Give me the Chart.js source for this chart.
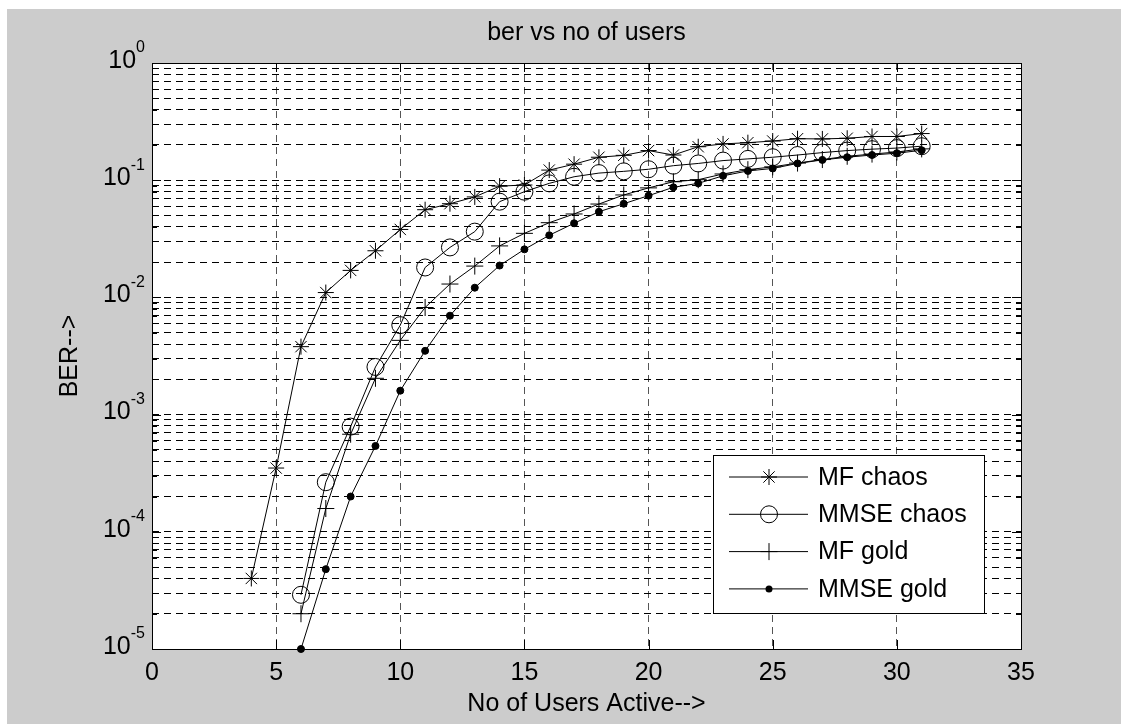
<!DOCTYPE html>
<html>
<head>
<meta charset="utf-8">
<script src="https://cdn.jsdelivr.net/npm/chart.js@4.4.0/dist/chart.umd.min.js"></script>
<style>
  html, body { margin: 0; padding: 0; background: #fff; }
  #wrap { position: absolute; left: 7px; top: 9px; width: 1114px; height: 715px; background: #ccc; }
</style>
</head>
<body>
<div id="wrap"><canvas id="myChart"></canvas></div>
<script>
const users = [4, 5, 6, 7, 8, 9, 10, 11, 12, 13, 14, 15, 16, 17, 18, 19, 20, 21, 22, 23, 24, 25, 26, 27, 28, 29, 30, 31];
const mfChaos = [4.0e-5, 3.5e-4, 3.8e-3, 1.1e-2, 1.7e-2, 2.5e-2, 3.8e-2, 5.6e-2, 6.3e-2, 7.2e-2, 8.9e-2, 9.1e-2, 0.122, 0.137,
  0.157, 0.163, 0.179, 0.164, 0.193, 0.204, 0.209, 0.216, 0.226, 0.225, 0.228, 0.236, 0.236, 0.25];
const mmseChaos = [null, null, 2.9e-5, 2.65e-4, 7.9e-4, 2.55e-3, 5.8e-3, 1.8e-2, 2.67e-2, 3.64e-2, 6.56e-2, 7.98e-2, 9.4e-2, 0.107,
  0.115, 0.119, 0.124, 0.133, 0.139, 0.147, 0.152, 0.157, 0.164, 0.172, 0.179, 0.184, 0.188, 0.195];
const mfGold = [null, null, 2.0e-5, 1.58e-4, 6.8e-4, 2.04e-3, 4.3e-3, 8.2e-3, 1.3e-2, 1.85e-2, 2.75e-2, 3.52e-2, 4.34e-2, 5.15e-2,
  6.26e-2, 7.48e-2, 0.086, 0.097, 0.101, 0.113, 0.123, 0.13, 0.14, 0.15, 0.16, 0.167, 0.174, 0.185];
const mmseGold = [null, null, 1.0e-5, 4.8e-5, 2.0e-4, 5.4e-4, 1.6e-3, 3.5e-3, 6.98e-3, 1.21e-2, 1.87e-2, 2.57e-2, 3.39e-2, 4.29e-2,
  5.38e-2, 6.3e-2, 0.0738, 0.087, 0.094, 0.109, 0.12, 0.126, 0.139, 0.149, 0.157, 0.164, 0.17, 0.18];
const seriesNames = ["MF chaos", "MMSE chaos", "MF gold", "MMSE gold"];
const xTicks = [0, 5, 10, 15, 20, 25, 30, 35];
const yExponents = [-5, -4, -3, -2, -1, 0];

const FONT = "'Liberation Sans', Arial, sans-serif";
Chart.defaults.font.family = FONT;
Chart.defaults.font.size = 25;
Chart.defaults.color = "#000";

function pts(series) {
  return users.map((u, i) => ({ x: u, y: series[i] }));
}

function drawMarker(ctx, style, x, y) {
  ctx.save();
  ctx.strokeStyle = "#000";
  ctx.fillStyle = "#000";
  ctx.lineWidth = 1;
  ctx.beginPath();
  if (style === "star") {
    const r = 8, d = r * Math.SQRT1_2;
    ctx.moveTo(x - r, y); ctx.lineTo(x + r, y);
    ctx.moveTo(x, y - r); ctx.lineTo(x, y + r);
    ctx.moveTo(x - d, y - d); ctx.lineTo(x + d, y + d);
    ctx.moveTo(x - d, y + d); ctx.lineTo(x + d, y - d);
    ctx.stroke();
  } else if (style === "circle") {
    ctx.arc(x, y, 8.5, 0, Math.PI * 2);
    ctx.stroke();
  } else if (style === "cross") {
    ctx.moveTo(x - 8.5, y); ctx.lineTo(x + 8.5, y);
    ctx.moveTo(x, y - 8.5); ctx.lineTo(x, y + 8.5);
    ctx.stroke();
  } else {
    ctx.arc(x, y, 3.5, 0, Math.PI * 2);
    ctx.fill();
  }
  ctx.restore();
}

const legendStyles = ["star", "circle", "cross", "dot"];

const matlabAxes = {
  id: "matlabAxes",
  beforeDraw(chart) {
    const { ctx, chartArea: a } = chart;
    ctx.save();
    ctx.fillStyle = "#fff";
    ctx.fillRect(a.left, a.top, a.right - a.left, a.bottom - a.top);
    ctx.restore();
  },
  afterDraw(chart) {
    const { ctx, chartArea: a } = chart;
    const xs = chart.scales.x, ys = chart.scales.y;
    ctx.save();
    ctx.strokeStyle = "#000";
    ctx.lineWidth = 1;
    // inner ticks
    ctx.beginPath();
    ys.ticks.forEach(t => {
      const y = Math.round(ys.getPixelForValue(t.value)) + 0.5;
      const len = Number.isInteger(Math.log10(t.value)) ? 9 : 5;
      ctx.moveTo(a.left, y); ctx.lineTo(a.left + len, y);
      ctx.moveTo(a.right, y); ctx.lineTo(a.right - len, y);
    });
    xs.ticks.forEach(t => {
      const x = Math.round(xs.getPixelForValue(t.value)) + 0.5;
      ctx.moveTo(x, a.bottom); ctx.lineTo(x, a.bottom - 9);
      ctx.moveTo(x, a.top); ctx.lineTo(x, a.top + 9);
    });
    ctx.stroke();
    // box
    ctx.strokeRect(Math.round(a.left) + 0.5, Math.round(a.top) + 0.5,
      Math.round(a.right - a.left), Math.round(a.bottom - a.top));

    // y tick labels 10^n
    ctx.fillStyle = "#000";
    ctx.textBaseline = "middle";
    ctx.textAlign = "right";
    yExponents.forEach(e => {
      const y = ys.getPixelForValue(Math.pow(10, e));
      const sup = String(e);
      ctx.font = "16px " + FONT;
      const supW = ctx.measureText(sup).width;
      ctx.fillText(sup, a.left - 7, y - 15);
      ctx.font = "25px " + FONT;
      ctx.fillText("10", a.left - 7 - supW, y - 2);
    });

    // legend
    const lx = 706, ly = 446, lw = 271, lh = 158;
    ctx.fillStyle = "#fff";
    ctx.fillRect(lx, ly, lw, lh);
    ctx.strokeRect(lx + 0.5, ly + 0.5, lw, lh);
    ctx.textAlign = "left";
    ctx.font = "25px " + FONT;
    chart.data.datasets.forEach((ds, i) => {
      const y = 468 + i * 37.3;
      ctx.beginPath();
      ctx.moveTo(722, y); ctx.lineTo(801, y);
      ctx.stroke();
      drawMarker(ctx, legendStyles[i], 762, y);
      ctx.fillStyle = "#000";
      ctx.fillText(ds.label, 811, y + 1);
    });
    ctx.restore();
  }
};

const baseDs = { borderColor: "#000", borderWidth: 1, pointBorderColor: "#000", pointBorderWidth: 1,
  fill: false, tension: 0, clip: false, pointHoverRadius: 0 };

new Chart(document.getElementById("myChart"), {
  type: "line",
  data: {
    datasets: [
      { ...baseDs, label: seriesNames[0], data: pts(mfChaos), pointStyle: "star", pointRadius: 8,
        pointBackgroundColor: "rgba(0,0,0,0)" },
      { ...baseDs, label: seriesNames[1], data: pts(mmseChaos), pointStyle: "circle", pointRadius: 8.5,
        pointBackgroundColor: "rgba(0,0,0,0)" },
      { ...baseDs, label: seriesNames[2], data: pts(mfGold), pointStyle: "cross", pointRadius: 8.5,
        pointBackgroundColor: "rgba(0,0,0,0)" },
      { ...baseDs, label: seriesNames[3], data: pts(mmseGold), pointStyle: "circle", pointRadius: 3.5,
        pointBackgroundColor: "#000" }
    ]
  },
  options: {
    responsive: true,
    maintainAspectRatio: false,
    animation: false,
    devicePixelRatio: 1,
    events: [],
    layout: { padding: { left: 0, right: 100, top: 0, bottom: 0 } },
    plugins: {
      legend: { display: false },
      tooltip: { enabled: false },
      title: {
        display: true,
        text: "ber vs no of users",
        fullSize: false,
        color: "#000",
        font: { size: 25, weight: "normal" },
        padding: { top: 9, bottom: 15 }
      }
    },
    scales: {
      x: {
        type: "linear",
        min: 0,
        max: 35,
        afterBuildTicks: s => { s.ticks = xTicks.map(v => ({ value: v })); },
        afterFit: s => { s.height = 75; },
        ticks: { padding: 9, color: "#000", font: { size: 25 } },
        grid: { color: "#555", lineWidth: 1, drawTicks: false },
        border: { display: false, dash: [7, 5] },
        title: { display: true, text: "No of Users Active-->", color: "#000", font: { size: 25 },
          padding: { top: 0, bottom: 5 } }
      },
      y: {
        type: "logarithmic",
        min: 1e-5,
        max: 1,
        afterBuildTicks: s => {
          const t = [];
          yExponents.forEach(e => {
            if (e === 0) { t.push({ value: 1 }); return; }
            for (let k = 1; k <= 9; k++) t.push({ value: k * Math.pow(10, e) });
          });
          s.ticks = t;
        },
        afterFit: s => { s.width = 145; },
        ticks: { display: false },
        grid: { color: "#000", lineWidth: 1, drawTicks: false },
        border: { display: false, dash: [7, 5] },
        title: { display: true, text: "BER-->", color: "#000", font: { size: 25 },
          padding: { top: 48, bottom: 0 } }
      }
    }
  },
  plugins: [matlabAxes]
});
</script>
</body>
</html>
